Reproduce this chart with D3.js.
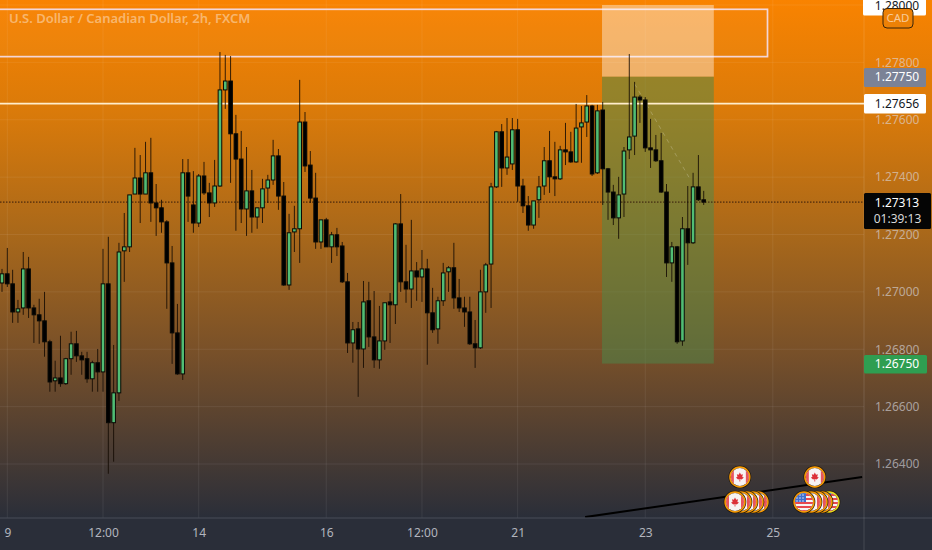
<!DOCTYPE html>
<html>
<head>
<meta charset="utf-8">
<script src="https://cdn.jsdelivr.net/npm/d3@7/dist/d3.min.js"></script>
<style>
html,body{margin:0;padding:0;background:#2a2e39;overflow:hidden}
svg{display:block}
text{font-family:"Noto Sans",sans-serif}
</style>
</head>
<body>
<svg id="c" width="932" height="550"></svg>
<script>
const opens=[1.27031,1.27063,1.27028,1.26930,1.26944,1.27080,1.26944,1.26920,1.26899,1.26826,1.26690,1.26700,1.26680,1.26767,1.26819,1.26777,1.26767,1.26697,1.26753,1.26721,1.27028,1.26544,1.26648,1.27143,1.27157,1.27341,1.27397,1.27341,1.27415,1.27310,1.27293,1.27244,1.27101,1.26857,1.26714,1.27415,1.27303,1.27240,1.27404,1.27345,1.27310,1.27369,1.27704,1.27735,1.27551,1.27463,1.27289,1.27352,1.27261,1.27293,1.27362,1.27390,1.27474,1.27334,1.27024,1.27209,1.27220,1.27592,1.27442,1.27327,1.27174,1.27251,1.27157,1.27199,1.27160,1.27035,1.26822,1.26871,1.26801,1.26969,1.26843,1.26763,1.26829,1.26965,1.26955,1.27237,1.27035,1.27010,1.27073,1.27052,1.27080,1.26927,1.26871,1.26969,1.27070,1.27084,1.26979,1.26944,1.26930,1.26819,1.26805,1.27000,1.27097,1.27366,1.27558,1.27432,1.27446,1.27565,1.27369,1.27300,1.27233,1.27321,1.27369,1.27457,1.27401,1.27394,1.27495,1.27488,1.27453,1.27575,1.27592,1.27648,1.27415,1.27634,1.27429,1.27348,1.27258,1.27341,1.27495,1.27543,1.27679,1.27669,1.27502,1.27495,1.27457,1.27348,1.27101,1.27157,1.26829,1.27220,1.27171,1.27366,1.27321];
const highs=[1.27080,1.27153,1.27077,1.26972,1.27139,1.27122,1.26955,1.26976,1.27000,1.26833,1.26760,1.26847,1.26770,1.26861,1.26864,1.26791,1.26791,1.26760,1.26801,1.27150,1.27192,1.26815,1.27171,1.27275,1.27338,1.27502,1.27477,1.27523,1.27537,1.27376,1.27321,1.27250,1.27160,1.26958,1.27463,1.27463,1.27421,1.27411,1.27453,1.27380,1.27460,1.27836,1.27826,1.27822,1.27617,1.27561,1.27505,1.27425,1.27293,1.27394,1.27408,1.27530,1.27498,1.27383,1.27272,1.27300,1.27739,1.27627,1.27491,1.27415,1.27251,1.27258,1.27209,1.27223,1.27174,1.27066,1.26895,1.26895,1.27038,1.27035,1.27003,1.26951,1.26962,1.26996,1.27240,1.27341,1.27164,1.27251,1.27104,1.27146,1.27115,1.27014,1.26983,1.27101,1.27090,1.27171,1.27045,1.26983,1.26983,1.26902,1.27077,1.27101,1.27380,1.27561,1.27585,1.27606,1.27606,1.27603,1.27394,1.27334,1.27317,1.27404,1.27505,1.27561,1.27523,1.27509,1.27589,1.27558,1.27655,1.27648,1.27686,1.27652,1.27652,1.27662,1.27432,1.27373,1.27401,1.27505,1.27829,1.27732,1.27686,1.27679,1.27603,1.27547,1.27554,1.27376,1.27174,1.27160,1.27261,1.27369,1.27415,1.27477,1.27352];
const lows=[1.27000,1.27017,1.26892,1.26892,1.26920,1.26909,1.26822,1.26819,1.26774,1.26652,1.26652,1.26669,1.26676,1.26711,1.26756,1.26711,1.26683,1.26652,1.26652,1.26652,1.26366,1.26408,1.26620,1.27035,1.27139,1.27341,1.27240,1.27341,1.27244,1.27195,1.27206,1.26941,1.26749,1.26711,1.26693,1.27244,1.27206,1.27226,1.27338,1.27261,1.27296,1.27366,1.27638,1.27380,1.27213,1.27240,1.27195,1.27206,1.27220,1.27240,1.27310,1.27373,1.27286,1.27021,1.27007,1.27139,1.27101,1.27418,1.27310,1.27150,1.27150,1.27157,1.27101,1.27125,1.27031,1.26787,1.26753,1.26634,1.26735,1.26808,1.26735,1.26732,1.26798,1.26822,1.26888,1.27000,1.26962,1.26944,1.26969,1.26965,1.26746,1.26857,1.26819,1.26951,1.27000,1.26941,1.26930,1.26878,1.26815,1.26735,1.26801,1.26927,1.26944,1.27362,1.27366,1.27408,1.27425,1.27314,1.27275,1.27213,1.27220,1.27258,1.27338,1.27345,1.27334,1.27390,1.27442,1.27450,1.27450,1.27450,1.27540,1.27404,1.27411,1.27303,1.27251,1.27233,1.27185,1.27261,1.27463,1.27477,1.27589,1.27488,1.27432,1.27453,1.27345,1.27052,1.27035,1.26819,1.26812,1.27094,1.27167,1.27317,1.27303];
const closes=[1.27063,1.27028,1.26930,1.26941,1.27080,1.26944,1.26920,1.26899,1.26826,1.26686,1.26700,1.26680,1.26767,1.26819,1.26777,1.26763,1.26697,1.26753,1.26721,1.27028,1.26544,1.26648,1.27139,1.27157,1.27338,1.27397,1.27341,1.27415,1.27310,1.27293,1.27244,1.27101,1.26857,1.26714,1.27415,1.27334,1.27240,1.27404,1.27345,1.27310,1.27369,1.27704,1.27735,1.27551,1.27463,1.27289,1.27352,1.27261,1.27293,1.27359,1.27390,1.27474,1.27334,1.27024,1.27206,1.27220,1.27592,1.27439,1.27327,1.27174,1.27251,1.27157,1.27199,1.27157,1.27035,1.26822,1.26868,1.26801,1.26965,1.26843,1.26763,1.26829,1.26962,1.26955,1.27237,1.27035,1.27010,1.27073,1.27052,1.27080,1.26927,1.26868,1.26969,1.27066,1.27084,1.26979,1.26944,1.26930,1.26819,1.26805,1.27000,1.27094,1.27366,1.27558,1.27432,1.27470,1.27565,1.27369,1.27300,1.27233,1.27317,1.27366,1.27457,1.27401,1.27394,1.27495,1.27488,1.27453,1.27571,1.27589,1.27648,1.27411,1.27631,1.27429,1.27348,1.27258,1.27338,1.27491,1.27540,1.27679,1.27669,1.27502,1.27495,1.27457,1.27348,1.27101,1.27157,1.26826,1.27220,1.27171,1.27366,1.27321,1.27313];

const priceTicks=[1.28,1.278,1.276,1.274,1.272,1.27,1.268,1.266,1.264];
const timeTickIndex=[1,19,37,61,79,97,121,145];
const timeTickLabels=["9","12:00","14","16","12:00","21","23","25"];
const levelLine=1.27656;
const lastPrice=1.27313;
const countdown="01:39:13";
const stopLevel=1.2775;
const targetLevel=1.2675;
const zoneTop=1.27985, zoneBottom=1.2782, zoneEnd=144;
const boxStart=112.87, boxEnd=133.9;
const trendIndex=[109.7,161.8], trendPrice=[1.26215,1.26355];
const fadedIndex=[119,129.4], fadedPrice=[1.27725,1.27394];
const topFlags=[["CA",138.8],["CA",152.9]];
const bottomFlags=[["CA",758],["CA",753],["CA",747],["CA",741],["CA",735],["US",829,"y"],["CA",822],["CA",817],["CA",811],["US",804]];

const W=932,H=550,plotR=864,plotB=518;
const x=d3.scaleLinear().domain([0,160]).range([2,2+5.316*160]);
const y=d3.scaleLinear().domain([1.264,1.28]).range([464,5]);
const svg=d3.select("#c");
const defs=svg.append("defs");
const grad=defs.append("linearGradient").attr("id","bg").attr("x1",0).attr("x2",0).attr("y1",0).attr("y2",1);
[[0,"#f98300"],[0.22,"#d97a0a"],[0.45,"#a9681a"],[0.68,"#785029"],[0.85,"#4f3e32"],[1,"#2a2e39"]].forEach(s=>grad.append("stop").attr("offset",s[0]).attr("stop-color",s[1]));
const clip=defs.append("clipPath").attr("id","plot");
clip.append("rect").attr("width",plotR).attr("height",plotB);
const cc=defs.append("clipPath").attr("id","flagc");
cc.append("circle").attr("r",9);

svg.append("rect").attr("width",W).attr("height",H).attr("fill","#2a2e39");
svg.append("rect").attr("width",W).attr("height",plotB).attr("fill","url(#bg)");

const grid=svg.append("g").attr("stroke","#fff").attr("stroke-opacity",0.07);
grid.selectAll("line.h").data(priceTicks).join("line").attr("x1",0).attr("x2",plotR).attr("y1",d=>y(d)).attr("y2",d=>y(d));
grid.selectAll("line.v").data(timeTickIndex).join("line").attr("x1",d=>x(d)).attr("x2",d=>x(d)).attr("y1",0).attr("y2",plotB);

svg.append("text").attr("x",9).attr("y",23).attr("font-size",13).attr("font-weight",600).attr("fill","#fff").attr("fill-opacity",0.42).text("U.S. Dollar / Canadian Dollar, 2h, FXCM");

const plot=svg.append("g").attr("clip-path","url(#plot)");
plot.append("rect").attr("x",-6).attr("y",y(zoneTop)).attr("width",x(zoneEnd)+6).attr("height",y(zoneBottom)-y(zoneTop))
  .attr("fill","#fff").attr("fill-opacity",0.03).attr("stroke","#f3d6d6").attr("stroke-width",1.7);
plot.append("rect").attr("x",x(boxStart)).attr("width",x(boxEnd)-x(boxStart)).attr("y",y(1.28)).attr("height",y(stopLevel)-y(1.28)).attr("fill","#fff").attr("fill-opacity",0.4);
plot.append("rect").attr("x",x(boxStart)).attr("width",x(boxEnd)-x(boxStart)).attr("y",y(stopLevel)).attr("height",y(targetLevel)-y(stopLevel)).attr("fill","#4a8a4c").attr("fill-opacity",0.5);
plot.append("line").attr("x1",0).attr("x2",plotR).attr("y1",y(levelLine)).attr("y2",y(levelLine)).attr("stroke","#ffedcc").attr("stroke-width",1.7);
plot.append("line").attr("x1",0).attr("x2",plotR).attr("y1",y(lastPrice)).attr("y2",y(lastPrice)).attr("stroke","#33190a").attr("stroke-width",1).attr("stroke-dasharray","1.5,1.5");
plot.append("line").attr("x1",x(fadedIndex[0])).attr("x2",x(fadedIndex[1])).attr("y1",y(fadedPrice[0])).attr("y2",y(fadedPrice[1])).attr("stroke","#fff").attr("stroke-opacity",0.22).attr("stroke-dasharray","4,4");

const rows=d3.range(opens.length).map(i=>({i,o:opens[i],h:highs[i],l:lows[i],c:closes[i]}));
const cg=plot.append("g");
cg.selectAll("line").data(rows).join("line")
  .attr("x1",d=>x(d.i)).attr("x2",d=>x(d.i)).attr("y1",d=>y(d.h)).attr("y2",d=>y(d.l))
  .attr("stroke","#140a02").attr("stroke-opacity",0.85).attr("stroke-width",1);
cg.selectAll("rect").data(rows).join("rect")
  .attr("x",d=>x(d.i)-1.8).attr("width",3.6)
  .attr("y",d=>Math.min(y(d.o),y(d.c)))
  .attr("height",d=>Math.max(1.5,Math.abs(y(d.o)-y(d.c))))
  .attr("fill",d=>d.c>=d.o?"#51bd74":"#000")
  .attr("stroke",d=>"#0a0a06").attr("stroke-width",1);

plot.append("line").attr("x1",x(trendIndex[0])).attr("x2",x(trendIndex[1])).attr("y1",y(trendPrice[0])).attr("y2",y(trendPrice[1])).attr("stroke","#000").attr("stroke-width",2);

// axes
svg.append("line").attr("x1",0).attr("x2",W).attr("y1",plotB).attr("y2",plotB).attr("stroke","#484c58");
svg.append("line").attr("x1",plotR).attr("x2",plotR).attr("y1",0).attr("y2",H).attr("stroke","#fff").attr("stroke-opacity",0.13);
const ay=svg.append("g").attr("transform",`translate(${plotR},0)`)
  .call(d3.axisRight(y).tickValues(priceTicks.slice(1)).tickSize(0).tickPadding(11).tickFormat(d3.format(".5f")));
ay.select(".domain").remove();
ay.selectAll("text").attr("font-size",12).attr("font-family",'"Noto Sans",sans-serif').attr("fill","#dcdde2").attr("fill-opacity",0.62);
const ax=svg.append("g").attr("transform",`translate(0,${plotB})`)
  .call(d3.axisBottom(x).tickValues(timeTickIndex).tickSize(0).tickPadding(10).tickFormat((d,i)=>timeTickLabels[i]));
ax.select(".domain").remove();
ax.selectAll("text").attr("font-size",12).attr("font-family",'"Noto Sans",sans-serif').attr("fill","#b2b5be");

// price tags
function tag(p,x0,x1,y0,y1,fill,col,txt,ty){
  svg.append("rect").attr("x",x0).attr("y",y0).attr("width",x1-x0).attr("height",y1-y0).attr("rx",1.5).attr("fill",fill);
  svg.append("text").attr("x",897).attr("y",ty).attr("text-anchor","middle").attr("font-size",12).attr("fill",col).text(txt);
}
const f5=d3.format(".5f");
tag(1.28,863,926,-3,15.5,"#fff","#131722",f5(1.28),y(1.28)+4.5);
tag(stopLevel,864,926,68,87,"#7b8296","#fff",f5(stopLevel),y(stopLevel)+4.5);
tag(levelLine,864,926,94,113.5,"#fff","#131722",f5(levelLine),y(levelLine)+4.5);
tag(lastPrice,864,931,193,229,"#050505","#fff",f5(lastPrice),y(lastPrice)+4.5);
svg.append("text").attr("x",897.5).attr("y",223).attr("text-anchor","middle").attr("font-size",12).attr("fill","#d8d8d8").text(countdown);
tag(targetLevel,864,927,355,373.5,"#2f9e51","#fff",f5(targetLevel),y(targetLevel)+4.5);

// currency button
svg.append("rect").attr("x",883).attr("y",8.5).attr("width",30).attr("height",19.5).attr("rx",4).attr("fill","#ed8106").attr("stroke","#3a2408").attr("stroke-width",1);
svg.append("text").attr("x",898).attr("y",22).attr("text-anchor","middle").attr("font-size",11.5).attr("fill","#fff").attr("fill-opacity",0.6).text("CAD");

// event flags
function flag(cx,cy,kind,ring){
  const g=svg.append("g").attr("transform",`translate(${cx},${cy})`);
  g.append("circle").attr("r",11.3).attr("fill","#1a1208");
  g.append("circle").attr("r",9.9).attr("fill","none").attr("stroke",ring==="y"?"#e8d81e":"#f59a06").attr("stroke-width",1.6);
  const f=g.append("g").attr("clip-path","url(#flagc)");
  if(kind==="CA"){
    f.append("rect").attr("x",-9).attr("y",-9).attr("width",18).attr("height",18).attr("fill","#f7f3f3");
    f.append("rect").attr("x",-9).attr("y",-9).attr("width",3).attr("height",18).attr("fill","#e8555c");
    f.append("rect").attr("x",6).attr("y",-9).attr("width",3).attr("height",18).attr("fill","#e8555c");
    f.append("path").attr("d","M0,-4.5L1.2,-2.2L3,-2.8L2.4,0L4,0.5L1.8,2.4L0.4,2L0.4,4.5L-0.4,4.5L-0.4,2L-1.8,2.4L-4,0.5L-2.4,0L-3,-2.8L-1.2,-2.2Z").attr("fill","#dc3038");
  } else {
    f.append("rect").attr("x",-9).attr("y",-9).attr("width",18).attr("height",18).attr("fill","#f7f3f3");
    d3.range(-8,9,4).forEach(sy=>f.append("rect").attr("x",-9).attr("y",sy).attr("width",18).attr("height",2).attr("fill","#e8484f"));
    f.append("rect").attr("x",-9).attr("y",-9).attr("width",11).attr("height",9).attr("fill","#3f6fd0");
    d3.range(-7,2,3).forEach(a=>d3.range(-7,0,3).forEach(b=>f.append("circle").attr("cx",a).attr("cy",b).attr("r",0.7).attr("fill","#fff")));
  }
}
topFlags.forEach(d=>flag(x(d[1]),477,d[0]));
bottomFlags.forEach(d=>flag(d[1],502,d[0],d[2]));
</script>
</body>
</html>
